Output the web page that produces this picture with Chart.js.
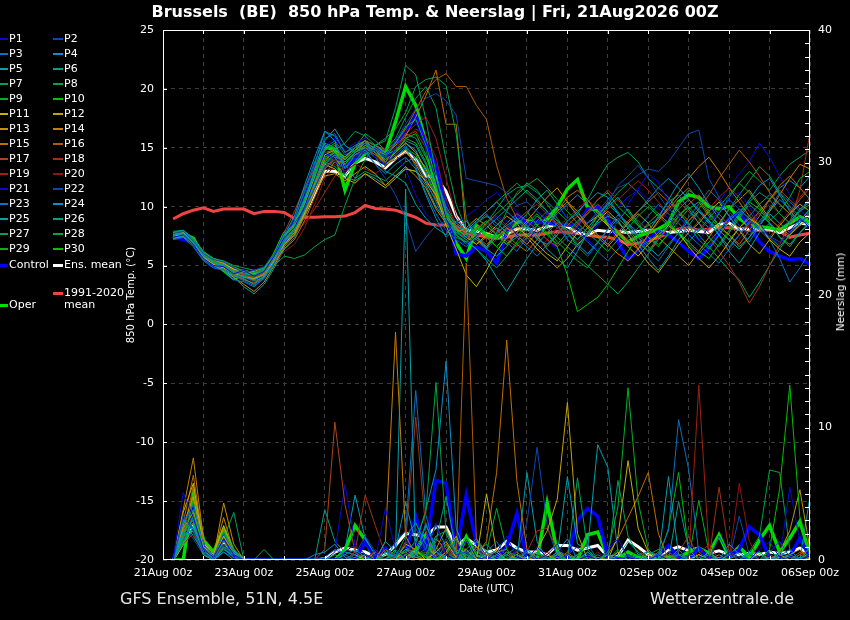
<!DOCTYPE html>
<html>
<head>
<meta charset="utf-8">
<script src="https://cdn.jsdelivr.net/npm/chart.js@4.4.0/dist/chart.umd.min.js"></script>
<style>
  body { margin:0; background:#000; }
  #wrap { position:relative; width:850px; height:620px; background:#000; overflow:hidden;
          font-family:'DejaVu Sans', sans-serif; color:#fff; }
  #wrap canvas { position:absolute; left:0; top:0; }
  .txt { position:absolute; white-space:pre; }
  #title { left:0; width:870px; top:2px; text-align:center; font-weight:bold; font-size:16px; }
  #foot1 { left:120px; top:589px; font-size:16px; color:#e6e6e6; }
  #foot2 { left:650px; top:589px; font-size:16px; color:#e6e6e6; }
  #rtitle { left:840px; top:292px; font-size:10.5px; transform:translate(-50%,-50%) rotate(-90deg); }
  .lg { position:absolute; font-size:11px; line-height:12px; white-space:pre; }
  .sw { position:absolute; height:2px; }
</style>
</head>
<body>
<div id="wrap">
  <canvas id="chart" width="850" height="620"></canvas>
  <div class="txt" id="title">Brussels  (BE)  850 hPa Temp. &amp; Neerslag | Fri, 21Aug2026 00Z</div>
  <div class="txt" id="rtitle">Neerslag (mm)</div>
  <div class="txt" id="foot1">GFS Ensemble, 51N, 4.5E</div>
  <div class="txt" id="foot2">Wetterzentrale.de</div>
  <div id="legend"></div>
</div>
<script>
// forecast hours (6-hourly, +6h .. +384h)
const hours = [6,12,18,24,30,36,42,48,54,60,66,72,78,84,90,96,102,108,114,120,126,132,138,144,150,156,162,168,174,180,186,192,198,204,210,216,222,228,234,240,246,252,258,264,270,276,282,288,294,300,306,312,318,324,330,336,342,348,354,360,366,372,378,384];
const tickLabels = ['21Aug 00z','23Aug 00z','25Aug 00z','27Aug 00z','29Aug 00z','31Aug 00z','02Sep 00z','04Sep 00z','06Sep 00z'];

// 850 hPa temperature (°C)
const tempMean = [7.5,7.4,7.0,5.9,5.3,5.2,4.6,4.5,4.3,4.4,5.5, 7.0,7.8,9.4,11.1,13.0,13.0,12.6,13.7,14.1,13.8,13.3,14.1,14.7,14.0,12.6,12.5,11.3,9.2, 8.0,7.9,7.7,7.4,7.7,8.1,8.1,8.0,8.3,8.5,8.3,7.8,7.6,8.0,7.9,7.9,7.8,7.9,8.0,7.9,7.8,7.9,8.0,7.9,7.8,8.5,8.6,8.1,8.1,8.1,8.1,7.8,8.2,8.6,8.5];
const tempClim = [8.95,9.4,9.7,9.9,9.6,9.8,9.8,9.8,9.4,9.6,9.6, 9.5,9.0,9.1,9.1,9.15,9.15,9.2,9.5,10.1,9.85,9.8,9.7,9.4,9.1,8.6,8.45,8.45,8.2, 7.7,7.6,7.45,7.3,7.4,7.6,7.6,7.6,7.75,7.9,7.8,7.75,7.6,7.45,7.4,7.2,6.8,6.9,7.1,7.4,7.75,8.1,8.2,8.0,8.1,8.2,8.2,8.1,8.0,8.0,8.0,7.9,7.4,7.6,7.75];
const tempCtrl = [7.45,7.2,6.9,5.75,4.9,4.8,4.05,4.2,3.8,4.1,5.5, 6.9,7.8,10.0,12.0,14.3,14.4,13.4,14.0,14.8,15.0,14.3,15.4,16.5,17.8,15.3,13.5,10.0,6.0, 5.8,6.6,6.2,5.2,7.8,9.3,8.6,8.7,8.6,8.5,8.45,8.4,9.8,10.0,9.0,7.0,5.5,6.3,7.3,7.9,7.6,7.0,6.2,5.6,6.5,7.7,9.0,9.45,8.4,7.0,6.2,5.8,5.5,5.6,5.1];
const tempOper = [7.3,7.7,7.3,5.8,5.3,4.6,3.9,4.3,4.0,4.6,5.9, 7.7,8.3,10.3,12.6,15.1,14.8,11.4,13.7,14.5,15.1,14.5,17.2,20.2,18.6,15.5,11.5,9.2,6.9, 5.6,8.4,7.6,7.4,7.9,8.7,8.8,8.6,8.9,10.0,11.5,12.3,9.9,9.7,8.6,7.8,7.0,7.5,7.8,8.1,8.6,10.4,11.0,10.8,10.0,9.8,10.0,9.0,8.4,8.3,8.2,8.0,8.6,9.15,8.7];

const t01 = [7.4,7.6,6.8,5.6,5.0,4.9,4.3,4.6,4.1,4.5,5.8, 7.4,8.2,10.0,12.3,14.6,14.0,12.8,14.2,14.9,14.2,13.6,15.0,16.4,17.2,15.0,12.2,9.0,7.2, 6.8,7.5,8.4,9.2,8.8,7.6,7.0,8.2,9.4,10.1,9.0,8.1,7.2,6.4,7.5,8.8,10.2,11.5,12.8,12.1,10.4,9.2,8.0,7.1,8.3,9.6,10.8,11.2,10.0,8.6,7.4,6.8,7.9,9.0,8.2];
const t02 = [7.7,7.9,7.1,6.0,5.5,5.3,4.8,4.4,4.6,4.9,6.0, 7.8,8.6,9.8,11.6,13.4,13.8,13.2,14.0,14.6,14.8,14.2,15.6,17.0,18.3,19.2,19.6,19.0,17.8, 12.4,12.2,12.0,11.8,11.2,10.1,10.4,9.6,8.8,8.2,7.4,7.9,8.6,9.4,10.3,11.8,12.6,13.5,12.4,11.0,9.8,9.1,8.4,7.9,8.8,9.5,10.6,9.8,8.9,8.1,7.5,7.0,7.8,8.6,9.4];
const t03 = [7.2,7.4,6.6,5.4,4.8,4.6,3.8,3.6,3.2,3.9,5.2, 7.2,8.8,11.4,13.8,15.8,16.2,14.6,15.0,15.4,14.6,13.8,14.4,15.2,14.0,12.2,10.4,8.6,7.8, 7.4,8.6,9.4,8.2,7.0,6.2,7.4,8.8,9.6,8.4,7.2,6.6,5.8,6.9,8.1,9.3,8.6,7.4,6.2,5.4,6.6,7.8,9.1,10.2,11.4,10.6,9.2,8.1,7.0,8.4,9.8,11.2,10.4,9.6,10.8];
const t04 = [7.6,7.7,7.0,5.8,5.2,5.0,4.5,4.0,3.8,4.2,5.6, 7.6,9.2,11.8,14.2,16.4,15.6,13.2,14.4,14.8,13.6,12.8,13.6,14.2,13.2,11.0,9.0,7.4,8.2, 8.8,7.6,6.4,5.8,6.6,7.8,8.4,7.2,6.8,7.6,8.8,9.6,10.4,11.2,10.8,9.4,8.6,7.8,8.4,9.0,10.6,12.0,12.8,11.6,10.2,9.0,8.2,9.4,10.6,11.8,12.4,11.0,9.6,8.8,9.8];
const t05 = [7.4,7.5,6.9,5.5,5.0,4.7,4.1,3.9,3.4,4.0,5.3, 7.0,8.0,10.4,13.2,15.6,16.6,15.2,14.6,15.0,14.2,13.0,12.6,12.0,10.2,9.0,8.2,7.6,8.8, 8.2,7.4,6.6,7.8,8.4,9.0,8.2,7.6,6.4,5.6,4.8,6.2,7.8,8.6,9.2,8.8,7.6,6.8,5.6,4.6,5.8,7.2,8.4,9.6,8.8,7.6,6.2,5.2,6.4,7.8,8.6,7.4,6.6,7.8,8.6];
const t06 = [7.9,8.0,7.3,6.2,5.6,5.4,5.0,4.8,4.6,4.8,5.9, 7.6,8.4,9.8,11.8,13.6,14.4,13.8,14.6,15.4,15.0,14.4,14.8,15.6,15.2,13.6,11.8,9.6,8.4, 7.8,8.6,9.2,8.6,7.8,8.4,9.4,10.6,11.4,10.2,9.0,8.2,7.6,8.8,10.0,10.8,9.6,8.4,7.8,9.2,10.4,11.0,9.8,8.6,7.4,6.6,7.8,9.0,10.2,9.4,8.6,7.8,8.8,9.6,10.2];
const t07 = [7.5,7.9,7.2,6.1,5.4,5.0,4.4,4.3,4.2,4.6,5.8, 7.2,8.0,9.6,11.6,13.8,14.8,15.4,16.4,16.0,15.2,15.6,18.4,22.0,21.2,17.4,12.8,9.4,7.6, 6.8,7.4,8.6,9.8,11.0,11.6,11.8,11.2,10.4,9.6,8.8,9.4,10.6,12.2,13.6,14.2,14.6,13.8,12.4,11.6,10.8,9.6,8.4,7.2,6.4,7.6,8.8,9.6,10.4,11.2,10.6,9.4,8.6,9.8,10.4];
const t08 = [7.3,7.6,7.0,5.9,5.2,4.9,4.2,4.1,3.7,4.0,5.0, 5.8,5.6,5.9,6.6,7.2,7.6,10.1,12.4,14.0,15.2,15.8,16.6,18.0,20.2,20.8,21.0,20.3,16.2, 9.0,7.2,6.4,7.8,9.6,11.2,12.0,11.4,10.2,9.0,7.8,6.6,7.8,9.2,10.4,9.6,8.2,7.0,6.2,7.4,8.8,10.2,11.4,10.8,9.6,8.4,9.8,11.0,12.2,13.4,12.6,11.2,10.0,9.2,8.4];
const t09 = [7.6,7.7,7.1,6.0,5.3,5.1,4.5,4.6,4.4,4.7,5.7, 7.0,8.4,10.6,12.8,14.8,15.2,14.0,14.8,15.6,14.8,14.2,15.4,16.8,17.4,15.2,12.4,9.6,7.8, 7.2,8.0,8.8,7.6,6.8,7.4,8.6,9.4,8.2,7.0,6.2,5.4,4.8,6.2,7.4,8.8,9.8,8.6,7.4,6.6,7.8,9.2,10.0,9.0,8.2,9.4,10.8,12.0,11.2,10.0,8.8,9.6,10.8,12.4,13.0];
const t10 = [7.8,7.9,7.3,6.1,5.6,5.3,4.9,4.5,4.2,4.5,5.8, 7.4,8.2,10.0,12.2,14.2,14.6,13.6,14.6,15.2,14.6,14.0,14.6,15.8,16.2,14.4,11.6,9.2,8.0, 7.6,8.2,7.4,6.6,5.8,6.8,7.6,8.4,7.8,6.6,4.2,1.1,1.7,2.3,3.4,4.8,6.2,7.6,8.6,9.4,8.6,7.8,7.0,6.2,5.6,6.8,8.0,9.2,10.4,9.8,8.6,7.4,6.8,7.8,8.8];
const t11 = [7.5,7.6,6.9,5.7,5.1,4.8,4.4,4.0,3.9,4.2,5.4, 6.8,7.8,9.6,11.8,13.6,13.2,12.4,12.0,12.8,12.2,11.6,12.4,13.2,13.0,12.2,11.0,8.4,6.4, 4.2,3.2,4.6,6.2,7.4,8.2,7.6,6.8,6.0,5.4,6.6,7.8,8.6,9.2,8.4,7.4,6.6,5.8,6.8,7.6,8.4,7.8,6.6,5.6,4.8,5.8,7.0,8.2,9.0,8.4,7.2,6.4,5.8,7.0,7.8];
const t12 = [7.7,7.8,7.2,6.0,5.5,5.2,4.7,4.4,4.5,4.8,5.9, 7.4,8.6,10.2,12.4,14.4,14.8,14.2,15.0,15.6,14.8,13.8,14.6,15.4,14.6,13.2,11.4,9.2,8.2, 7.4,6.8,7.6,8.4,9.2,8.6,7.4,6.4,5.6,4.8,5.6,6.8,7.6,8.8,9.6,8.8,7.6,6.4,5.2,4.4,5.6,6.8,7.8,8.6,9.6,10.4,9.2,8.0,6.8,6.0,7.2,8.4,9.4,10.2,9.6];
const t13 = [7.3,7.5,6.8,5.6,5.0,4.6,4.0,3.4,2.8,3.6,5.0, 6.6,7.6,9.4,11.4,12.6,12.8,12.2,12.8,13.4,12.8,11.8,12.6,13.4,12.6,11.6,9.8,8.6,7.8, 8.2,9.0,8.4,7.6,6.8,7.8,8.8,9.8,10.8,11.6,10.4,9.2,8.2,7.4,6.6,7.6,8.6,9.4,8.6,7.4,6.6,5.8,5.0,6.2,7.4,8.6,9.8,10.6,11.4,10.2,9.0,8.2,7.6,8.4,9.2];
const t14 = [7.6,7.8,7.0,5.9,5.3,5.0,4.3,4.1,3.8,4.3,5.5, 7.0,8.2,10.0,12.0,14.0,14.6,14.0,14.8,15.4,14.6,13.6,14.2,14.8,13.6,12.0,10.6,9.0,8.4, 7.8,7.2,6.6,7.4,8.2,7.6,6.8,7.8,8.8,9.6,10.4,9.6,8.4,7.6,6.8,6.0,5.4,6.4,7.6,8.8,10.0,11.2,12.4,13.4,14.2,13.0,11.6,10.4,9.2,8.4,9.6,11.0,12.4,13.6,13.2];
const t15 = [7.4,7.5,6.8,5.8,5.1,4.8,4.2,3.8,3.5,4.1,5.3, 6.4,7.2,8.8,10.8,12.8,13.8,13.8,14.6,15.2,14.8,14.4,15.2,16.0,17.6,19.4,21.6,17.0,17.0, 7.6,6.8,7.4,8.2,7.6,6.8,6.2,7.2,8.4,9.6,10.8,11.4,10.6,9.4,8.6,7.8,7.0,6.4,7.6,8.8,9.8,10.8,11.6,10.6,9.4,8.4,7.6,6.8,8.0,9.2,10.6,11.8,12.6,11.6,10.6];
const t16 = [7.5,7.7,7.0,5.9,5.3,5.0,4.6,4.4,4.2,4.5,5.6, 6.8,7.6,9.2,11.2,13.2,14.2,14.0,14.8,15.6,15.2,14.8,15.4,16.6,18.2,19.8,20.8,21.3,20.2, 20.2,18.6,17.4,13.5,10.7,9.0,8.2,7.4,6.6,7.6,8.4,9.2,8.4,7.6,6.8,7.8,8.8,9.6,10.4,11.2,10.4,9.6,8.8,9.8,11.0,12.4,13.6,14.8,13.8,12.6,11.2,10.2,9.4,10.6,11.6];
const t17 = [7.6,7.8,7.1,6.0,5.4,5.1,4.6,4.2,3.9,4.4,5.8, 7.8,9.6,11.6,13.2,14.6,14.8,14.0,14.8,15.0,14.4,13.6,14.0,14.6,13.8,12.4,10.8,9.4,8.6, 8.0,7.4,6.8,7.6,8.6,9.4,8.8,8.0,7.2,6.6,7.4,8.4,9.4,10.2,9.4,8.6,7.8,7.0,6.2,7.2,8.2,9.2,10.2,11.0,10.2,9.4,8.4,7.6,8.6,9.6,10.6,11.4,10.6,9.8,10.4];
const t18 = [7.4,7.6,6.9,5.7,5.1,4.9,4.4,4.2,4.0,4.4,5.5, 7.0,8.0,9.6,11.6,13.4,14.0,13.6,14.4,15.0,14.4,13.8,14.8,16.0,16.4,15.0,12.2,9.8,8.4, 7.6,8.2,8.8,8.0,7.2,6.6,7.4,8.4,9.2,8.4,7.6,8.6,9.6,10.6,11.4,10.6,9.6,8.8,8.0,9.0,9.8,10.4,9.6,8.6,7.4,6.2,5.0,3.6,1.8,3.2,5.0,6.8,8.6,11.4,16.3];
const t19 = [7.7,7.9,7.2,6.1,5.5,5.2,4.8,4.6,4.4,4.7,5.8, 7.2,7.8,8.6,9.8,11.2,12.6,13.4,14.2,14.8,14.4,14.0,15.0,16.2,17.0,17.6,15.8,12.4,9.2, 7.8,7.2,6.6,7.4,8.0,8.8,9.6,10.2,9.4,8.6,7.8,7.0,7.8,8.8,9.8,10.6,11.4,12.2,11.4,10.4,9.4,8.6,7.8,8.8,9.8,10.8,11.6,10.8,9.6,8.4,7.4,8.6,9.6,10.8,11.8];
const t20 = [7.5,7.6,7.0,5.8,5.2,4.9,4.3,4.0,3.6,4.1,5.2, 6.2,6.8,8.2,10.2,12.4,13.6,13.0,13.6,13.2,12.8,13.4,14.6,15.8,16.6,16.0,14.2,10.6,8.4, 7.2,8.0,8.6,9.2,8.4,7.6,6.8,6.2,7.2,8.2,9.0,9.8,10.6,9.8,8.8,8.0,7.2,6.6,7.6,8.6,9.6,10.4,9.6,8.6,7.8,7.0,6.2,7.2,8.4,9.4,10.2,9.4,8.6,9.6,10.6];
const t21 = [7.2,7.3,6.7,5.5,4.9,4.7,4.2,3.8,3.5,4.0,5.4, 7.6,9.0,11.0,13.4,15.2,15.8,14.8,15.4,15.8,15.0,14.2,14.4,13.2,11.0,9.4,8.6,8.0,8.6, 9.2,9.8,10.6,11.2,10.4,9.6,8.8,8.0,7.2,6.4,5.6,6.6,7.6,8.4,9.2,10.0,10.8,11.4,10.6,9.8,9.0,8.2,7.4,8.2,9.2,10.4,11.6,12.8,13.8,15.4,14.2,12.6,11.0,9.8,8.8];
const t22 = [7.6,7.7,7.0,5.8,5.2,4.9,4.4,4.3,4.1,4.5,5.6, 7.0,8.2,9.8,11.8,13.6,14.2,13.8,14.4,14.6,13.6,12.4,11.0,9.0,6.2,7.4,8.4,8.8,8.2, 7.6,7.0,6.4,7.2,8.2,9.0,8.4,7.6,8.6,9.4,10.2,9.4,8.6,9.6,10.6,11.6,12.0,12.7,13.2,13.0,13.8,15.0,16.2,16.5,12.4,10.8,9.6,8.4,7.6,8.6,9.8,10.6,9.8,9.0,8.4];
const t23 = [7.4,7.5,6.8,5.6,5.0,4.8,4.1,3.7,3.3,3.9,5.1, 6.8,8.0,10.2,12.8,15.0,15.6,14.4,14.8,15.4,14.6,13.4,14.2,15.0,13.4,11.2,9.4,8.0,7.2, 6.6,7.4,8.2,9.0,8.2,7.4,6.6,5.8,6.8,7.8,8.6,7.8,7.0,6.2,5.4,6.4,7.4,8.2,9.2,10.2,9.4,8.6,7.6,6.8,6.0,5.2,6.4,7.6,8.8,8.0,7.2,5.6,3.6,4.8,6.2];
const t24 = [7.7,7.8,7.1,5.9,5.4,5.1,4.6,4.5,4.3,4.6,5.7, 7.2,8.6,10.8,13.6,16.4,16.0,14.6,15.2,15.6,14.8,14.0,14.6,15.4,14.8,13.0,11.0,9.2,8.4, 8.0,8.8,9.6,10.4,9.6,8.8,8.0,7.4,8.4,9.4,10.2,11.0,10.2,9.2,8.4,7.6,8.6,9.6,10.6,11.6,12.4,11.6,10.6,9.6,8.6,7.6,6.6,7.6,8.6,9.6,10.6,11.6,12.2,11.6,12.6];
const t25 = [7.3,7.4,6.7,5.5,4.9,4.6,4.0,3.2,2.6,3.4,4.8, 6.4,7.4,9.2,11.6,13.8,13.4,12.6,12.2,12.8,12.4,11.8,12.6,13.2,13.0,11.8,10.0,8.8,7.6, 7.0,6.4,5.4,4.0,2.8,4.2,5.6,6.8,7.8,8.6,7.8,6.8,6.0,7.0,8.0,9.0,8.2,7.4,6.6,5.8,6.8,7.8,8.8,9.6,8.8,8.0,7.2,6.4,7.4,8.4,9.4,8.6,7.8,8.8,9.8];
const t26 = [7.8,8.0,7.3,6.2,5.6,5.3,4.8,4.6,4.4,4.6,5.8, 7.6,9.0,11.2,13.4,15.4,15.0,14.0,14.8,15.6,15.2,14.6,15.2,16.2,15.8,14.2,12.4,10.0,8.6, 8.0,7.4,8.2,9.0,9.8,10.6,11.4,10.6,9.6,8.8,8.0,7.2,8.2,9.2,10.2,9.4,8.4,7.6,6.8,7.8,8.8,9.8,10.6,9.8,8.8,8.0,7.2,8.2,9.2,10.2,11.0,10.2,9.4,8.6,9.4];
const t27 = [7.5,7.7,7.0,5.8,5.2,4.9,4.3,4.1,3.9,4.3,5.4, 6.8,7.6,9.2,11.2,13.2,14.0,13.6,12.4,13.0,12.6,12.2,13.0,13.8,14.2,13.4,11.6,9.4,8.0, 7.2,6.4,5.6,4.8,5.8,7.0,8.2,9.2,8.4,7.4,6.6,5.8,5.0,4.2,3.4,2.6,3.6,4.8,6.0,7.2,8.4,9.4,8.6,7.6,6.6,5.6,4.6,3.8,2.3,3.6,5.0,6.4,7.6,8.6,9.4];
const t28 = [7.4,7.6,6.9,5.7,5.1,4.8,4.2,4.0,3.8,4.2,5.4, 7.0,8.2,10.0,12.2,14.4,15.0,14.2,15.0,16.2,15.6,14.8,15.8,17.6,19.2,20.2,18.4,14.0,10.2, 8.0,8.8,9.6,10.4,11.2,12.0,11.2,10.4,9.6,8.8,8.0,7.2,8.2,9.2,10.2,11.2,12.0,11.2,10.2,9.4,8.6,7.8,7.0,8.0,9.0,10.0,11.0,12.0,13.0,12.2,11.4,12.6,13.6,14.2,14.8];
const t29 = [7.6,7.8,7.1,6.0,5.3,5.0,4.5,4.3,4.0,4.4,5.6, 7.2,8.4,10.4,12.6,14.8,15.4,12.6,13.8,15.0,14.6,13.8,14.6,15.8,15.4,13.8,11.0,8.6,7.4, 7.0,7.8,8.6,9.4,10.2,11.0,11.8,12.4,11.6,10.6,9.6,8.6,7.8,7.0,6.2,7.2,8.2,9.2,10.0,9.2,8.4,7.6,6.8,6.0,7.0,8.0,9.0,9.8,9.0,8.2,7.4,6.6,7.6,8.6,9.6];
const t30 = [7.5,7.6,7.0,5.8,5.2,5.0,4.4,4.4,4.2,4.5,5.7, 7.4,8.2,9.8,11.8,13.8,14.4,13.8,14.4,14.8,14.2,13.6,14.2,15.0,14.4,12.8,10.8,9.0,8.0, 7.6,8.2,7.4,6.6,7.6,8.8,9.6,8.4,7.6,6.8,7.8,8.8,9.4,10.6,11.2,10.0,9.2,8.4,7.4,6.8,7.6,8.8,9.8,10.4,9.2,8.2,7.6,6.6,7.4,8.8,9.6,10.6,9.8,8.4,9.0];

// 6-hourly precipitation (mm)
const rainMean = [0.05,1.3,2.6,1.1,0.5,1.4,0.5,0.05, 0,0,0,0,0,0,0,0.1, 0.6,0.9,0.75,0.6,0.25,0.4,1.1,2.0, 1.9,1.75,2.5,2.5,1.0,1.65,1.1,0.6, 0.75,1.4,0.9,0.6,0.6,0.4,1.1,1.1, 0.75,0.9,1.1,0.25,0.25,1.5,1.0,0.4, 0.25,0.75,1.0,0.7,0.9,0.5,0.7,0.4, 0.4,0.5,0.4,0.6,0.5,0.6,0.9,0.4];
const rainCtrl = [0.1,1.7,4.0,1.0,0.25,1.8,0.25,0, 0,0,0,0,0,0,0,0, 0,0,0,1.4,0.2,0.9,0,0.5, 3.3,0.75,6.0,5.8,0.5,4.9,1.3,0.1, 0.2,1.0,3.5,0.1,0,0,0.2,0.1, 3.0,3.9,3.3,0.25,0.1,0,0,0.1, 0.3,1.1,0.2,0,0.9,0.2,0.1,0.3, 0.8,2.5,1.9,0.2,0,0.3,1.65,0.2];
const rainOper = [0,0,4.9,1.5,0.6,2.3,0.6,0, 0,0,0,0,0,0,0,0, 0,0.75,2.6,1.5,0,0,0.2,0, 0.75,1.9,0,0.1,0,1.75,0.2,0, 0,0,0,0,0,4.3,0.6,0.2, 0,1.9,2.1,0.2,0.1,0.6,0.2,0.1, 0.2,0.2,0.2,0.6,0.9,0.5,1.9,0.2, 1.0,0.2,1.5,2.6,0.6,1.65,2.9,0.4];

const r01 = [0,5.1,3.2,0.8,0.2,1.6,0.4,0, 0,0,0,0,0,0,0,0, 0,0.6,1.2,0.4,0,3.9,0.8,0.2, 1.4,0.6,2.8,0.4,0,1.6,0.2,0, 0.6,1.8,0.2,0,0,0.4,1.2,0, 0,0.3,0,0.8,1.6,0.2,0,0, 0.4,0,0,1.2,0.3,0,0,0.6, 0.2,0,0.8,1.4,0.2,0,0,0.3];
const r02 = [0,3.4,2.2,0.6,0,1.2,0.2,0, 0,0,0,0,0,0,0,0, 0,0,0.4,1.8,0.6,0,0.3,1.2, 2.4,0.8,0.2,1.6,0.4,0.6,0,0.2, 0,0,0.8,0.3,0,0,0,0.4, 1.0,0,0,0,0.2,0,0,0, 0,0.6,0.2,0,0,0,1.8,0.4, 0,0,0,0.6,1.4,0.2,0,0.4];
const r03 = [0,2.8,4.2,1.2,0.3,2.0,0.6,0, 0,0,0,0,0,0,0,0.2, 0.8,0.4,0,0,0.6,0,1.4,2.2, 12.8,3.4,0.6,0,0.8,0.4,0,0.6, 1.4,0.2,0,0.6,0,0,0,0, 0.4,1.2,0,0,0,0.3,0,0, 0,0,0.4,0.2,0,0,0,0, 0.6,0,0,0,0.3,0.8,0,0];
const r04 = [0,2.2,3.0,0.8,0,0.9,0.2,0, 0,0,0,0,0,0,0.4,0.6, 1.2,0.2,0,0,0,0.6,0.2,0, 0.4,1.8,0.6,0.2,0,0.8,0,0, 0,0.4,1.0,0,0,0,0.6,1.6, 0,0,0,0.4,0,0,0,0.2, 0,0,0.8,0,0,0,0,1.2, 0.4,0,0,0,0,0,0.2,0];
const r05 = [0,1.8,2.6,0.4,0,0.6,0,0, 0,0,0,0,0,0,0,0, 0,0.4,0.8,0.2,0,1.4,0.6,28.0, 0.4,2.6,1.0,0,0.2,0,1.4,0.6, 0,0,0,0.8,0.2,0,0,0, 0,0.6,0,0,0,0,0,0, 0.4,0,0,0,0,0,0.2,0, 0,0,0,0,0.6,0.2,0,0];
const r06 = [0,3.0,1.8,0.6,0.2,1.4,0.8,0, 0,0,0,0,0,0,0,0, 0,0,0.2,0.4,0,0.6,0.2,0.8, 0.2,0.4,1.8,2.2,0.6,0,0.4,0.2, 0,0,0.2,0,0.6,0,0,0.4, 0,0,0,0,0.3,1.4,0.6,0, 0,0,0,0,0,0.6,0,0, 0,0,0,0.2,0,0,0,1.0];
const r07 = [0,1.4,2.4,0.6,0,0.8,0.4,0, 0,0,0,0,0,0,0,0, 0,0,0,0,0,0.4,0.2,1.8, 2.8,1.2,0,0,0,0,0.6,1.2, 0.4,0,0,0,0.6,0.2,0,0, 0,0,0,0,6.0,1.8,0.4,0, 0,0,0,0.4,0.2,0,0,0, 0,0,0,0.8,0,0,0,0];
const r08 = [0,1.2,3.4,0.8,0.2,1.0,0.4,0, 0,0,0,0,0,0,0,0, 0,0,0,0,0,0,0.4,0.6, 1.4,3.6,13.4,2.0,0.4,0,0.8,0, 0,0.6,0.4,0,0,0,0,0, 0,0,0.4,0,0.8,0,0,0, 0,0,0.4,0,0,0,0,0.6, 0.2,0,0,0,0,0.4,0,0];
const r09 = [0,2.0,2.8,0.4,0,1.0,0.6,0, 0,0,0,0,0,0,0,0, 0.4,0,0,0,0,0,0,0.4, 0.8,0.2,1.6,0.8,0,0.4,0,0.6, 3.9,0.8,0,0,0,0,0.4,0, 0,0,0,0.6,4.0,13.0,4.4,0.8, 0,0,0,0,0,0.4,0,0, 0,0.4,0.6,0,0,0,0,0.2];
const r10 = [0,1.6,4.4,0.6,0,2.2,0.8,0, 0,0,0,0,0,0,0,0, 0,0,0,0.2,0,0,0.8,0, 0.6,0.2,0,0.4,1.6,0.2,0,0, 0,0.4,0,0,0,0,0.2,0, 0.4,0,0,0,0,0,0,0.6, 0,0,0.4,0,0,0,0,0.4, 0,0,0,0.8,5.4,13.2,3.2,0.4];
const r11 = [0,3.6,5.8,1.0,0.4,2.6,0.6,0, 0,0,0,0,0,0,0,0, 0,0,0,0.4,0,0,0,1.2, 0.8,0,0.6,1.4,0.2,0.8,0,5.0, 0.6,0,0,0.2,0,0.4,0,0, 0,0,0,0,1.8,7.5,2.4,0.6, 0,0,0,0,0.4,0,0,0, 0,0,0.6,0,0.2,0,0,0];
const r12 = [0,2.6,4.8,0.8,0.2,1.8,0.4,0, 0,0,0,0,0,0,0,0, 0,0,0.4,0,0,0,0,0.8, 0.6,0.2,0,0.6,1.8,0,0.4,0, 0,0,0.4,0,0.8,2.2,4.6,11.9, 2.0,0,0,0,0,0,0,0.4, 0,0,0,0,0,0.6,0,0, 0,0,0,0,0,0.4,0.8,0];
const r13 = [0,2.4,3.6,0.8,0.2,4.3,1.2,0, 0,0,0,0,0,0,0,0, 0,0,0,0,0.6,0,0,0.4, 0.2,0,0.8,2.4,0.6,0,0,0.4, 0,0.6,0,0,0,0,0.4,0, 0,0,0.2,0,0.6,0,0,0, 0,0,0,0,0.4,0,0,0, 0,0,0,0,0.6,2.2,5.3,0.8];
const r14 = [0,3.8,7.7,1.6,0.4,3.2,0.6,0, 0,0,0,0,0,0,0,0, 0,0,0,0,0,1.4,17.2,1.8, 0.4,0,0.6,0,0,0,1.0,0.4, 0.6,0.8,0,0,0,0,0,0.4, 0,0,0,0,0,0,0,0, 0.4,0,0,0,0,0,0,0, 0,0,0,0,0.4,0,0,0];
const r15 = [0,2.8,6.4,1.2,0.2,2.4,0.4,0, 0,0,0,0,0,0,0,0, 0,0,0,0,0,0,0.2,0.6, 0,0,0,0,0,0,0.4,1.4, 6.6,16.6,6.0,0.8,0,0.4,0,0, 0,0,0,0.4,1.6,3.2,4.8,6.6, 2.0,0,0,0,0,0,0.4,0, 0,0,0,0,0,0,0,0.2];
const r16 = [0,2.0,5.6,1.0,0.2,1.6,0.4,0, 0,0,0,0,0,0,0,0, 0,0,0,0,0,0,0,0, 0,0,0,0,0,22.4,1.6,0, 0,0.4,0,0,0,0,0,0.6, 0,0,0,0,0,0,0,0, 0,0.4,0,0,0,0,0,0, 0,0,0,0,0,0,0.4,0];
const r17 = [0,2.2,4.8,0.6,0,1.4,0.6,0, 0,0,0,0,0,0,0,0.8, 10.4,4.2,0.6,0,0,0.8,0.4,0, 0,0,0.6,1.2,0,0,0.4,0, 0.8,0,0.6,0,0,0,0,0, 0,0.2,0,0,0,0,0,0.8, 0,0,0,0,0.4,0,0,0, 0,0,0,0,0,0,0.6,0];
const r18 = [0,1.6,2.8,0.6,0,1.2,0.2,0, 0,0,0,0,0,0,0,0, 0,0,0.6,4.9,2.6,0.4,0,1.4, 10.8,2.2,0,0.6,0,0.4,0.8,0, 0,0,0,0.6,2.2,2.4,0.8,0, 0,0,0,0.4,0,0,0,0, 0,0,0.6,1.8,0,0,5.5,0.6, 0,0,0,0,0,0,0.4,0.8];
const r19 = [0,1.2,2.0,0.4,0,0.8,0.2,0, 0,0,0,0,0,0,0,0, 0,0,0,0,0.4,0,0,0, 0.6,0.4,1.8,0.4,0,0,0,0.6, 0,0,0,0,0,0.6,0,0, 0.4,0,0,0,0,0,0.8,0, 0,0.6,0,0,13.2,0.8,0,0, 0,0,0,0.4,0,0,0,0];
const r20 = [0,1.8,3.4,0.6,0,1.0,0.4,0, 0,0,0,0,0,0,0,0, 0,0,0,0,0.8,0,0,0.4, 0,0.6,0.4,0,1.2,0.8,0,0, 0,0,0,0,0.4,0,0,0, 0,0,0.6,0,0,0,0,0, 0,0,0,0,0.4,1.2,0,0, 5.8,1.4,0,0,0,0.4,0,0];
const r21 = [0,3.2,2.4,0.6,0,1.6,0.4,0, 0,0,0,0,0,0,0,0, 0.6,5.7,1.2,0,0,0,0,0.6, 1.2,0.4,0.2,0.8,0.4,0,0,0.4, 0.6,0,0,0,1.0,0.2,0,0, 0,0,0,0.6,0.2,0,0,0, 0,0,0,0,0,0,0,0.4, 0,0,0,0,0,5.5,1.4,0.2];
const r22 = [0,2.6,1.6,0.4,0,0.6,0.2,0, 0,0,0,0,0,0,0,0, 0,0,0,0,0,0.6,0.4,0, 1.6,0.8,0,0.4,0,0.2,0,0.4, 0,0,0.6,2.8,8.5,2.6,0.2,0, 0,0,0,0,0,0.4,0,0, 0,0,0,0,0,0,0,0, 3.3,0.4,0,0,0,0,0,0];
const r23 = [0,2.4,3.0,1.0,0.2,1.4,0.4,0, 0,0,0,0,0,0,0,0, 0,0,0,0,0,0,0.4,1.0, 0.4,2.8,0.6,0,0,0.6,1.0,0, 0,0,0,0,0.4,0,0.6,0, 0,0,0,0,0,0,0.4,0.6, 0.4,2.2,10.6,6.8,0.6,0,0,0, 0,0,0.4,0,0,0,0,0];
const r24 = [0,1.4,2.2,0.4,0,0.8,0.2,0, 0,0,0,0,0,0,0,0, 0,0,0,0,0,0,0.8,4.4, 1.2,3.8,6.8,15.0,2.4,0.4,0,0.6, 0,0,0.4,0,0,0,0,0, 0,0.4,0,0,0,0,0,0, 0,0,0,0,0,0,0,0, 0,0.6,0,0,0,0,0,0];
const r25 = [0,2.0,3.2,0.8,0,1.2,0.4,0, 0,0,0,0,0,0,0,0, 0,0.8,4.9,1.6,0.4,0,0.6,0, 0.8,0,0.4,0,0,0.6,0,0, 0.4,0,0,6.6,1.4,0,0.4,6.3, 1.2,0.8,8.7,7.0,0.6,0,0,0, 0,6.3,0.4,0,0,0,0,0, 0,0,0,0,0,0,0,4.8];
const r26 = [0,1.8,2.4,0.6,0,1.8,0.6,0, 0,0,0,0,0,0,0,3.8, 1.4,0.6,0.4,0,0,0,0,0.4, 0.2,0,1.4,4.8,0.6,0.4,0,0, 0,0,0,0.6,0,0,0,0, 0,0.6,0,0,0,0,0,0, 0.6,0,4.4,0.8,0,0,0,0, 0,0,0,0,0,0,0,0];
const r27 = [0,2.2,2.8,0.6,0.2,1.6,3.6,0, 0,0,0,0,0,0,0,0, 0,0,0.6,0,0,0,0,0, 0.6,0.4,0,1.2,0.4,0.8,1.6,0.6, 0.2,0,0,0,0,0,0,0, 6.2,0.8,0,0,0,0,0,0, 0,0,0,0,0,0,0,0, 0,0,0,0,0.4,0,0,0];
const r28 = [0,1.6,2.2,0.4,0,1.2,0.8,0, 0,0.8,0,0,0,0,0,0, 0,0,0,0,0,0,0,0, 0.4,0.8,2.6,1.0,0.2,0,0,0.4, 0,0,0,0,0,0,0,0, 0,0,0,0,0.6,0,0,0, 0,0,0.4,0,0,0,0,0, 0,0.6,1.8,6.8,6.6,0.8,0,0];
const r29 = [0,2.6,3.0,0.8,0,1.4,0.6,0, 0,0,0,0,0,0,0,0, 0,0,0,0,0,0.8,0,0, 0.8,0.2,0.6,0,0.4,0,0.6,0.2, 0,0,0.4,0,0,0,0,0, 0,0,0,0,0,0,0,0.4, 0.8,0,0,0,4.5,0.6,0,0, 0,0,0,0,0.4,0,0,0.6];
const r30 = [0,2.0,3.8,0.6,0,1.8,0.6,0, 0,0,0,0,0,0,0,0, 0,0,0,0,0,0,0,0, 0.4,0.6,0.4,0,0.8,0.2,0,0, 0,0,0,0,0.6,0,0,0, 0,0,0,0,0,0.4,0,0, 0,2.4,6.6,0.8,0,0,0,0, 0,0,0,0,0,0,0,0];

const tempMembers = [t01,t02,t03,t04,t05,t06,t07,t08,t09,t10,t11,t12,t13,t14,t15,t16,t17,t18,t19,t20,t21,t22,t23,t24,t25,t26,t27,t28,t29,t30];
const rainMembers = [r01,r02,r03,r04,r05,r06,r07,r08,r09,r10,r11,r12,r13,r14,r15,r16,r17,r18,r19,r20,r21,r22,r23,r24,r25,r26,r27,r28,r29,r30];

// P1..P20 colours, P21..P30 repeat the first ten
const memberColors = ['#0a0ad2','#1046b4','#0a70c0','#0a90c8','#00a0aa','#00a084','#00a05c','#00a444','#00b028','#00c000',
                      '#c4b400','#c4a400','#c49200','#c48000','#c06e00','#b05c00','#b04414','#a03214','#a02014','#901414'];
const CTRL = '#0000ff', OPER = '#00dc00', MEAN = '#ffffff', CLIM = '#f04444';

function series(arr, color, width, axis) {
  return {
    data: hours.map((h, i) => ({ x: h, y: arr[i] })),
    borderColor: color, borderWidth: width, yAxisID: axis,
    pointRadius: 0, fill: false, tension: 0
  };
}

const datasets = [];
rainMembers.forEach((r, i) => datasets.push(series(r, memberColors[i % 20], 1, 'y2')));
tempMembers.forEach((t, i) => datasets.push(series(t, memberColors[i % 20], 1, 'y')));
datasets.push(series(rainCtrl, CTRL, 3.5, 'y2'));
datasets.push(series(rainOper, OPER, 3.5, 'y2'));
datasets.push(series(rainMean, MEAN, 3, 'y2'));
datasets.push(series(tempCtrl, CTRL, 3.5, 'y'));
datasets.push(series(tempOper, OPER, 3.5, 'y'));
datasets.push(series(tempMean, MEAN, 3, 'y'));
datasets.push(series(tempClim, CLIM, 3, 'y'));

// white frame with short inward ticks
const frame = {
  id: 'frame',
  afterDraw(chart) {
    const { ctx, chartArea: a, scales } = chart;
    ctx.save();
    ctx.strokeStyle = '#ffffff';
    ctx.lineWidth = 1;
    ctx.strokeRect(a.left + 0.5, a.top + 0.5, a.right - a.left - 1, a.bottom - a.top - 1);
    ctx.beginPath();
    for (let h = 24; h < 384; h += 24) {
      const x = Math.round(scales.x.getPixelForValue(h)) + 0.5;
      ctx.moveTo(x, a.top); ctx.lineTo(x, a.top + 4);
      ctx.moveTo(x, a.bottom); ctx.lineTo(x, a.bottom - 4);
    }
    for (let v = -15; v < 25; v += 5) {
      const y = Math.round(scales.y.getPixelForValue(v)) + 0.5;
      ctx.moveTo(a.left, y); ctx.lineTo(a.left + 4, y);
    }
    for (let v = 1; v < 40; v++) {
      const y = Math.round(scales.y2.getPixelForValue(v)) + 0.5;
      ctx.moveTo(a.right - 5, y); ctx.lineTo(a.right, y);
    }
    ctx.stroke();
    ctx.restore();
  }
};

Chart.defaults.font.family = "'DejaVu Sans', sans-serif";
Chart.defaults.color = '#ffffff';

new Chart(document.getElementById('chart'), {
  type: 'line',
  data: { datasets },
  plugins: [frame],
  options: {
    responsive: false,
    animation: false,
    devicePixelRatio: 1,
    layout: { padding: { left: 121, right: 0, top: 30, bottom: 21 } },
    plugins: { legend: { display: false }, tooltip: { enabled: false } },
    scales: {
      x: {
        type: 'linear', min: 0, max: 384,
        afterFit(s) { s.height = 39; },
        ticks: {
          stepSize: 24, autoSkip: false, maxRotation: 0, padding: 7,
          color: '#ffffff', font: { size: 11 },
          callback: v => (v % 48 === 0 ? tickLabels[v / 48] : '')
        },
        grid: { color: '#3c3c3c', drawTicks: false },
        border: { display: false, dash: [4, 4] },
        title: { display: true, text: 'Date (UTC)', color: '#ffffff', font: { size: 10 }, padding: { top: 2, bottom: 4 } }
      },
      y: {
        position: 'left', min: -20, max: 25,
        afterFit(s) { s.width = 42; },
        ticks: { stepSize: 5, padding: 9, color: '#ffffff', font: { size: 11 } },
        grid: { color: '#3c3c3c', drawTicks: false },
        border: { display: false, dash: [4, 4] },
        title: { display: true, text: '850 hPa Temp. (°C)', color: '#ffffff', font: { size: 10 } }
      },
      y2: {
        position: 'right', min: 0, max: 40,
        afterFit(s) { s.width = 40; },
        ticks: { stepSize: 10, padding: 8, color: '#ffffff', font: { size: 11 } },
        grid: { display: false, drawOnChartArea: false, drawTicks: false },
        border: { display: false }
      }
    }
  }
});

// legend at the left
const legend = document.getElementById('legend');
function legendItem(text, color, col, y, thick) {
  const sw = document.createElement('div');
  sw.className = 'sw';
  sw.style.left = (col === 0 ? 0 : 53) + 'px';
  sw.style.width = (col === 0 ? 8 : 10) + 'px';
  sw.style.top = (y - 1) + 'px';
  sw.style.height = (thick ? 3 : 2) + 'px';
  sw.style.background = color;
  const lb = document.createElement('div');
  lb.className = 'lg';
  lb.style.left = (col === 0 ? 9 : 64) + 'px';
  lb.style.top = (y - 6) + 'px';
  lb.textContent = text;
  legend.appendChild(sw);
  legend.appendChild(lb);
}
tempMembers.forEach((t, i) => {
  legendItem('P' + (i + 1), memberColors[i % 20], i % 2, 39 + 15 * Math.floor(i / 2), false);
});
legendItem('Control', CTRL, 0, 265, true);
legendItem('Ens. mean', MEAN, 1, 265, true);
legendItem('1991-2020\nmean', CLIM, 1, 293, true);
legendItem('Oper', OPER, 0, 305, true);
</script>
</body>
</html>
